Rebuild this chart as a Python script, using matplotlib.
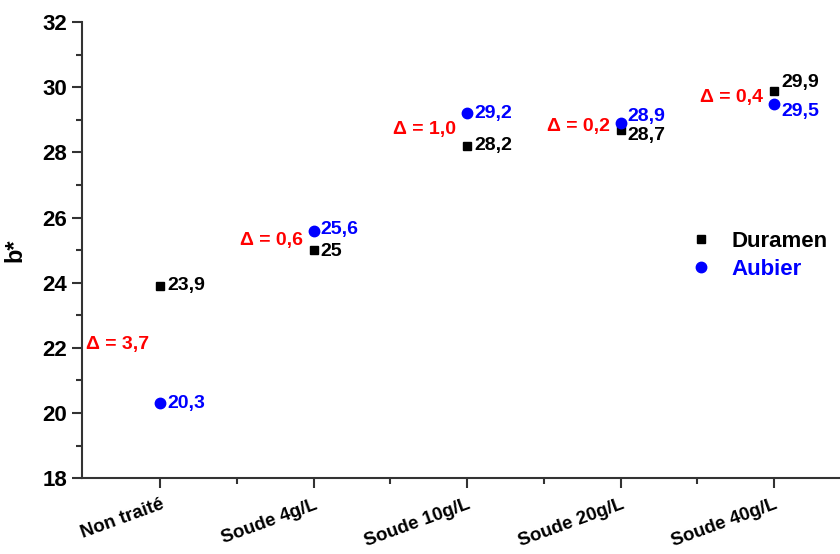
import matplotlib.pyplot as plt
from matplotlib.ticker import MultipleLocator

plt.rcParams['font.family'] = ['Liberation Sans', 'DejaVu Sans']

categories = ['Non traité', 'Soude 4g/L', 'Soude 10g/L', 'Soude 20g/L', 'Soude 40g/L']
duramen = [23.9, 25.0, 28.2, 28.7, 29.9]
aubier = [20.3, 25.6, 29.2, 28.9, 29.5]
duramen_labels = ['23,9', '25', '28,2', '28,7', '29,9']
aubier_labels = ['20,3', '25,6', '29,2', '28,9', '29,5']
delta_labels = ['Δ = 3,7', 'Δ = 0,6', 'Δ = 1,0', 'Δ = 0,2', 'Δ = 0,4']

# vertical nudges (points) for value labels so they do not overlap
dur_dy = [0, -1, 0, -4, 6]
aub_dy = [0, 1, 0, 5, -6]

x = list(range(len(categories)))

fig = plt.figure(figsize=(8.4, 5.54), dpi=100)
ax = fig.add_axes([0.0976, 0.137, 0.9024, 0.823])

ax.plot(x, duramen, 's', color='black', markersize=5.5, label='Duramen')
ax.plot(x, aubier, 'o', color='#0000ff', markersize=7.5, label='Aubier')

for i in x:
    ax.annotate(duramen_labels[i], (i, duramen[i]), xytext=(5, dur_dy[i]),
                textcoords='offset points', va='center', ha='left',
                fontsize=14, fontweight='bold', color='black')
    ax.annotate(aubier_labels[i], (i, aubier[i]), xytext=(5, aub_dy[i]),
                textcoords='offset points', va='center', ha='left',
                fontsize=14, fontweight='bold', color='#0000ff')
    mid = (duramen[i] + aubier[i]) / 2
    ax.annotate(delta_labels[i], (i, mid), xytext=(-8, 0),
                textcoords='offset points', va='center', ha='right',
                fontsize=14, fontweight='bold', color='#ff0000')

ax.set_xlim(-0.51, 4.43)
ax.set_ylim(18, 32)
ax.set_xticks(x)
ax.set_xticklabels(categories, rotation=20, ha='right', rotation_mode='anchor',
                   fontsize=13.5, fontweight='bold')
ax.set_xticks([i + 0.5 for i in x[:-1]], minor=True)
ax.yaxis.set_major_locator(MultipleLocator(2))
ax.yaxis.set_minor_locator(MultipleLocator(1))
for lab in ax.get_yticklabels():
    lab.set_fontweight('bold')
    lab.set_fontsize(16)
ax.set_ylabel('b*', fontsize=17, fontweight='bold', labelpad=12)

ax.spines['top'].set_visible(False)
ax.spines['right'].set_visible(False)
for s in ['left', 'bottom']:
    ax.spines[s].set_linewidth(1.5)
    ax.spines[s].set_color('#333333')
ax.tick_params(axis='both', which='major', length=7, width=1.5, color='#333333', direction='out')
ax.tick_params(axis='both', which='minor', length=4, width=1.5, color='#333333', direction='out')
ax.tick_params(axis='x', pad=6)

leg = ax.legend(loc='center left', bbox_to_anchor=(0.775, 0.488), frameon=False,
                prop={'size': 16, 'weight': 'bold'}, handletextpad=0.9, labelspacing=0.3,
                handlelength=1)
for txt, c in zip(leg.get_texts(), ['black', '#0000ff']):
    txt.set_color(c)

fig.savefig('out.png', dpi=100)
